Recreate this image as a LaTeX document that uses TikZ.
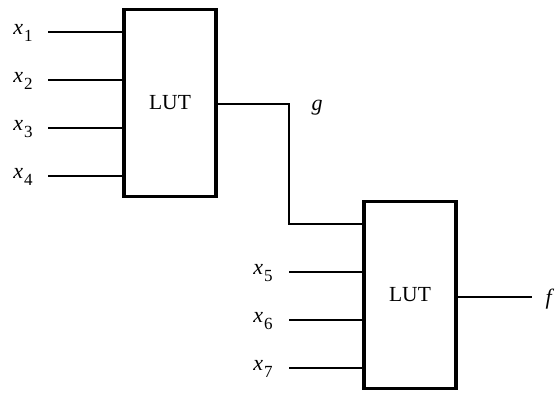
\documentclass[tikz,border=0pt]{standalone}
\usepackage{fontspec}
\setmainfont{Liberation Serif}
\newcommand\xsub[2]{\textit{#1}\kern1pt\raisebox{-7pt}{\fontsize{17}{17}\selectfont #2}}
\begin{document}
\begin{tikzpicture}[x=1pt,y=1pt,
  lutbox/.style={draw, line width=3.5pt, minimum width=92pt, minimum height=187pt, inner sep=0pt,
    font=\fontsize{21.5}{24}\selectfont},
  wire/.style={line width=1.2pt},
  lbl/.style={inner sep=0pt, font=\fontsize{22}{24}\selectfont}]
\useasboundingbox (0,0) rectangle (558,394);
\node[lutbox] (L1) at (170,291) {LUT};
\node[lutbox] (L2) at (410,99) {LUT};
% inputs of L1
\coordinate (i1) at (48,362);
\coordinate (i2) at (48,314);
\coordinate (i3) at (48,266);
\coordinate (i4) at (48,218);
\node[lbl] (t1) at (23,361) {\xsub{x}{1}};
\node[lbl] (t2) at (23,313) {\xsub{x}{2}};
\node[lbl] (t3) at (23,265) {\xsub{x}{3}};
\node[lbl] (t4) at (23,217) {\xsub{x}{4}};
\foreach \i in {i1,i2,i3,i4} \draw[wire] (\i) -- (\i -| L1.west);
% g connection
\coordinate (gc) at (289,290);
\coordinate (gd) at (289,170);
\draw[wire] (L1.east |- gc) -- (gc) -- (gd) -- (gd -| L2.west);
\node[lbl] (g) at (317,286) {\textit{g}};
% inputs of L2
\coordinate (i5) at (289,122);
\coordinate (i6) at (289,74);
\coordinate (i7) at (289,26);
\node[lbl] (t5) at (263,121) {\xsub{x}{5}};
\node[lbl] (t6) at (263,73) {\xsub{x}{6}};
\node[lbl] (t7) at (263,25) {\xsub{x}{7}};
\foreach \i in {i5,i6,i7} \draw[wire] (\i) -- (\i -| L2.west);
% output f
\coordinate (fo) at (532,97);
\draw[wire] (L2.east |- fo) -- (fo);
\node[lbl] (f) at (550,95) {\textit{f}};
\end{tikzpicture}
\end{document}
